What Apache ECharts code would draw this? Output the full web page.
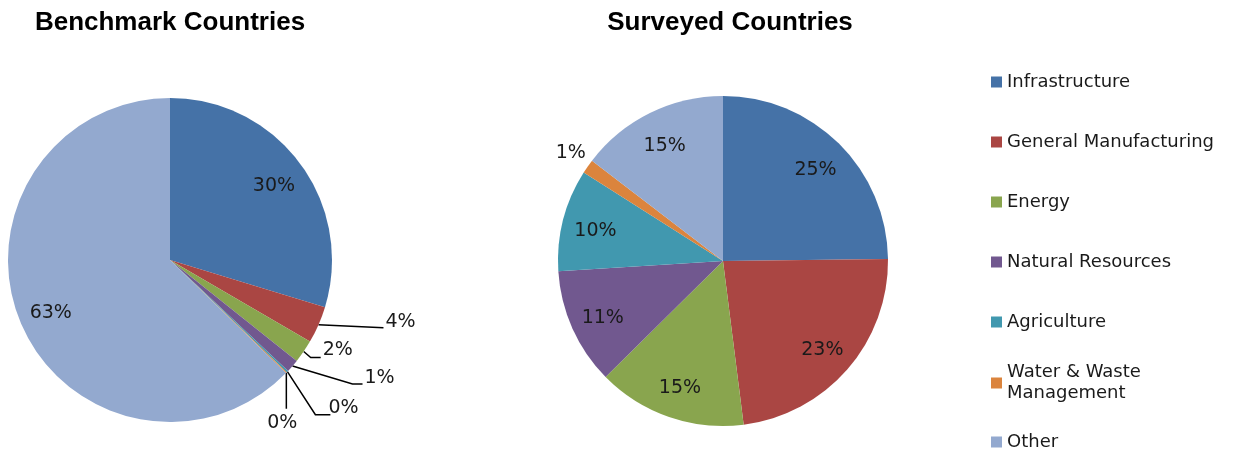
<!DOCTYPE html>
<html>
<head>
<meta charset="utf-8">
<script src="https://cdn.jsdelivr.net/npm/echarts@6/dist/echarts.min.js"></script>
<style>
  html, body { margin: 0; padding: 0; background: #ffffff; }
  #chart { width: 1237px; height: 452px; }
</style>
</head>
<body>
<div id="chart"></div>
<script>
// Investment shares by sector (%)
const sectors = ['Infrastructure', 'General Manufacturing', 'Energy', 'Natural Resources',
                 'Agriculture', 'Water & Waste Management', 'Other'];
const benchmarkShares = [29.7, 3.7, 2.3, 1.3, 0.2, 0.1, 62.7];
const surveyedShares = [24.8, 23.2, 14.6, 11.4, 10.0, 1.4, 14.6];
const sectorColors = ['#4572A7', '#AA4643', '#89A54E', '#71588F', '#4198AF', '#DB843D', '#93A9CF'];
const chartTitles = ['Benchmark Countries', 'Surveyed Countries'];

const BODY_FONT = 'DejaVu Sans';
const LABEL_SIZE = 19;
const pct = p => Math.round(p.value) + '%';

// Slices that get their percentage inside the pie; the rest are labelled outside.
const benchmarkInside = [true, false, false, false, false, false, true];
const surveyedInside = [true, true, true, true, true, false, true];

function pieData(values, insideFlags, outsideLabel) {
  return values.map((v, i) => ({
    name: sectors[i],
    value: v,
    itemStyle: { color: sectorColors[i] },
    label: insideFlags[i] ? { show: false } : outsideLabel
  }));
}

function labelOverlay(values, insideFlags, center, r) {
  // transparent ring whose mid-radius carries the inside labels
  return {
    type: 'pie',
    silent: true,
    center: center,
    radius: [r * 0.56, r],
    startAngle: 90,
    clockwise: true,
    animation: false,
    itemStyle: { color: 'rgba(0,0,0,0)' },
    labelLine: { show: false },
    label: { show: true, position: 'inside', formatter: pct, offset: [0, 3],
             color: '#1a1a1a', fontFamily: BODY_FONT, fontSize: LABEL_SIZE },
    emphasis: { disabled: true },
    data: values.map((v, i) => ({
      name: sectors[i],
      value: v,
      label: { show: insideFlags[i] }
    }))
  };
}

const LEFT_C = [170, 260], LEFT_R = 162;
const RIGHT_C = [723, 261], RIGHT_R = 165;

const outsideLabel = {
  show: true, position: 'outside', formatter: pct,
  color: '#1a1a1a', fontFamily: BODY_FONT, fontSize: LABEL_SIZE
};

// Leader-line routing for the thin benchmark slices, relative to each slice's edge point:
// bend points, then where the label sits (x, y, align, verticalAlign).
const leaderRoutes = {
  1: { pts: [[65, 3]], label: [67, -3, 'left', 'middle'] },
  2: { pts: [[7, 6], [17, 6]], label: [19, -1, 'left', 'middle'] },
  3: { pts: [[60, 18], [70, 18]], label: [72, 12, 'left', 'middle'] },
  4: { pts: [[28, 43], [43, 43]], label: [41, 36, 'left', 'middle'] },
  5: { pts: [[0, 36]], label: [-4, 50, 'center', 'middle'] }
};

function benchmarkLabelLayout(params) {
  const route = leaderRoutes[params.dataIndex];
  if (!route || !params.labelLinePoints) return {};
  const p0 = params.labelLinePoints[0];
  const pts = [p0].concat(route.pts.map(d => [p0[0] + d[0], p0[1] + d[1]]));
  return {
    x: p0[0] + route.label[0],
    y: p0[1] + route.label[1],
    align: route.label[2],
    verticalAlign: route.label[3],
    labelLinePoints: pts
  };
}

function surveyedLabelLayout(params) {
  if (params.dataIndex !== 5 || !params.labelLinePoints) return {};
  const p0 = params.labelLinePoints[0];
  return { x: p0[0] - 17, y: p0[1] - 13, align: 'center', verticalAlign: 'middle' };
}

const legendCenters = [82, 142, 202, 262, 322, 383, 442];
const legends = sectors.map((s, i) => {
  const twoLine = s === 'Water & Waste Management';
  return {
    data: [s],
    left: 991,
    top: twoLine ? legendCenters[i] - 31.5 : legendCenters[i] - 10.5,
    orient: 'vertical',
    padding: 0,
    itemWidth: 11,
    itemHeight: 11,
    icon: 'rect',
    selectedMode: false,
    formatter: n => n === 'Water & Waste Management' ? 'Water & Waste\nManagement' : n,
    textStyle: {
      fontFamily: BODY_FONT, fontSize: 18, color: '#1a1a1a', lineHeight: 21,
      padding: twoLine ? [21, 0, 0, 0] : 0
    }
  };
});

const titleText = { fontFamily: 'Liberation Sans', fontWeight: 'bold', fontSize: 26, color: '#000' };

const option = {
  backgroundColor: '#ffffff',
  animation: false,
  title: [
    { text: chartTitles[0], left: 170, top: 10, textAlign: 'center', padding: 0, textStyle: titleText },
    { text: chartTitles[1], left: 730, top: 10, textAlign: 'center', padding: 0, textStyle: titleText }
  ],
  legend: legends,
  series: [
    {
      type: 'pie',
      name: chartTitles[0],
      center: LEFT_C,
      radius: [0, LEFT_R],
      startAngle: 90,
      clockwise: true,
      avoidLabelOverlap: false,
      itemStyle: { borderWidth: 0 },
      labelLine: { show: true, length: 14, length2: 22, lineStyle: { color: '#000', width: 1.5 } },
      labelLayout: benchmarkLabelLayout,
      emphasis: { scale: false },
      data: pieData(benchmarkShares, benchmarkInside, outsideLabel)
    },
    labelOverlay(benchmarkShares, benchmarkInside, LEFT_C, LEFT_R),
    {
      type: 'pie',
      name: chartTitles[1],
      center: RIGHT_C,
      radius: [0, RIGHT_R],
      startAngle: 90,
      clockwise: true,
      avoidLabelOverlap: false,
      itemStyle: { borderWidth: 0 },
      labelLine: { show: false, length: 8, length2: 4 },
      labelLayout: surveyedLabelLayout,
      emphasis: { scale: false },
      data: pieData(surveyedShares, surveyedInside, outsideLabel)
    },
    labelOverlay(surveyedShares, surveyedInside, RIGHT_C, RIGHT_R)
  ]
};

const chart = echarts.init(document.getElementById('chart'), null, { renderer: 'canvas' });
chart.setOption(option);
</script>
</body>
</html>
